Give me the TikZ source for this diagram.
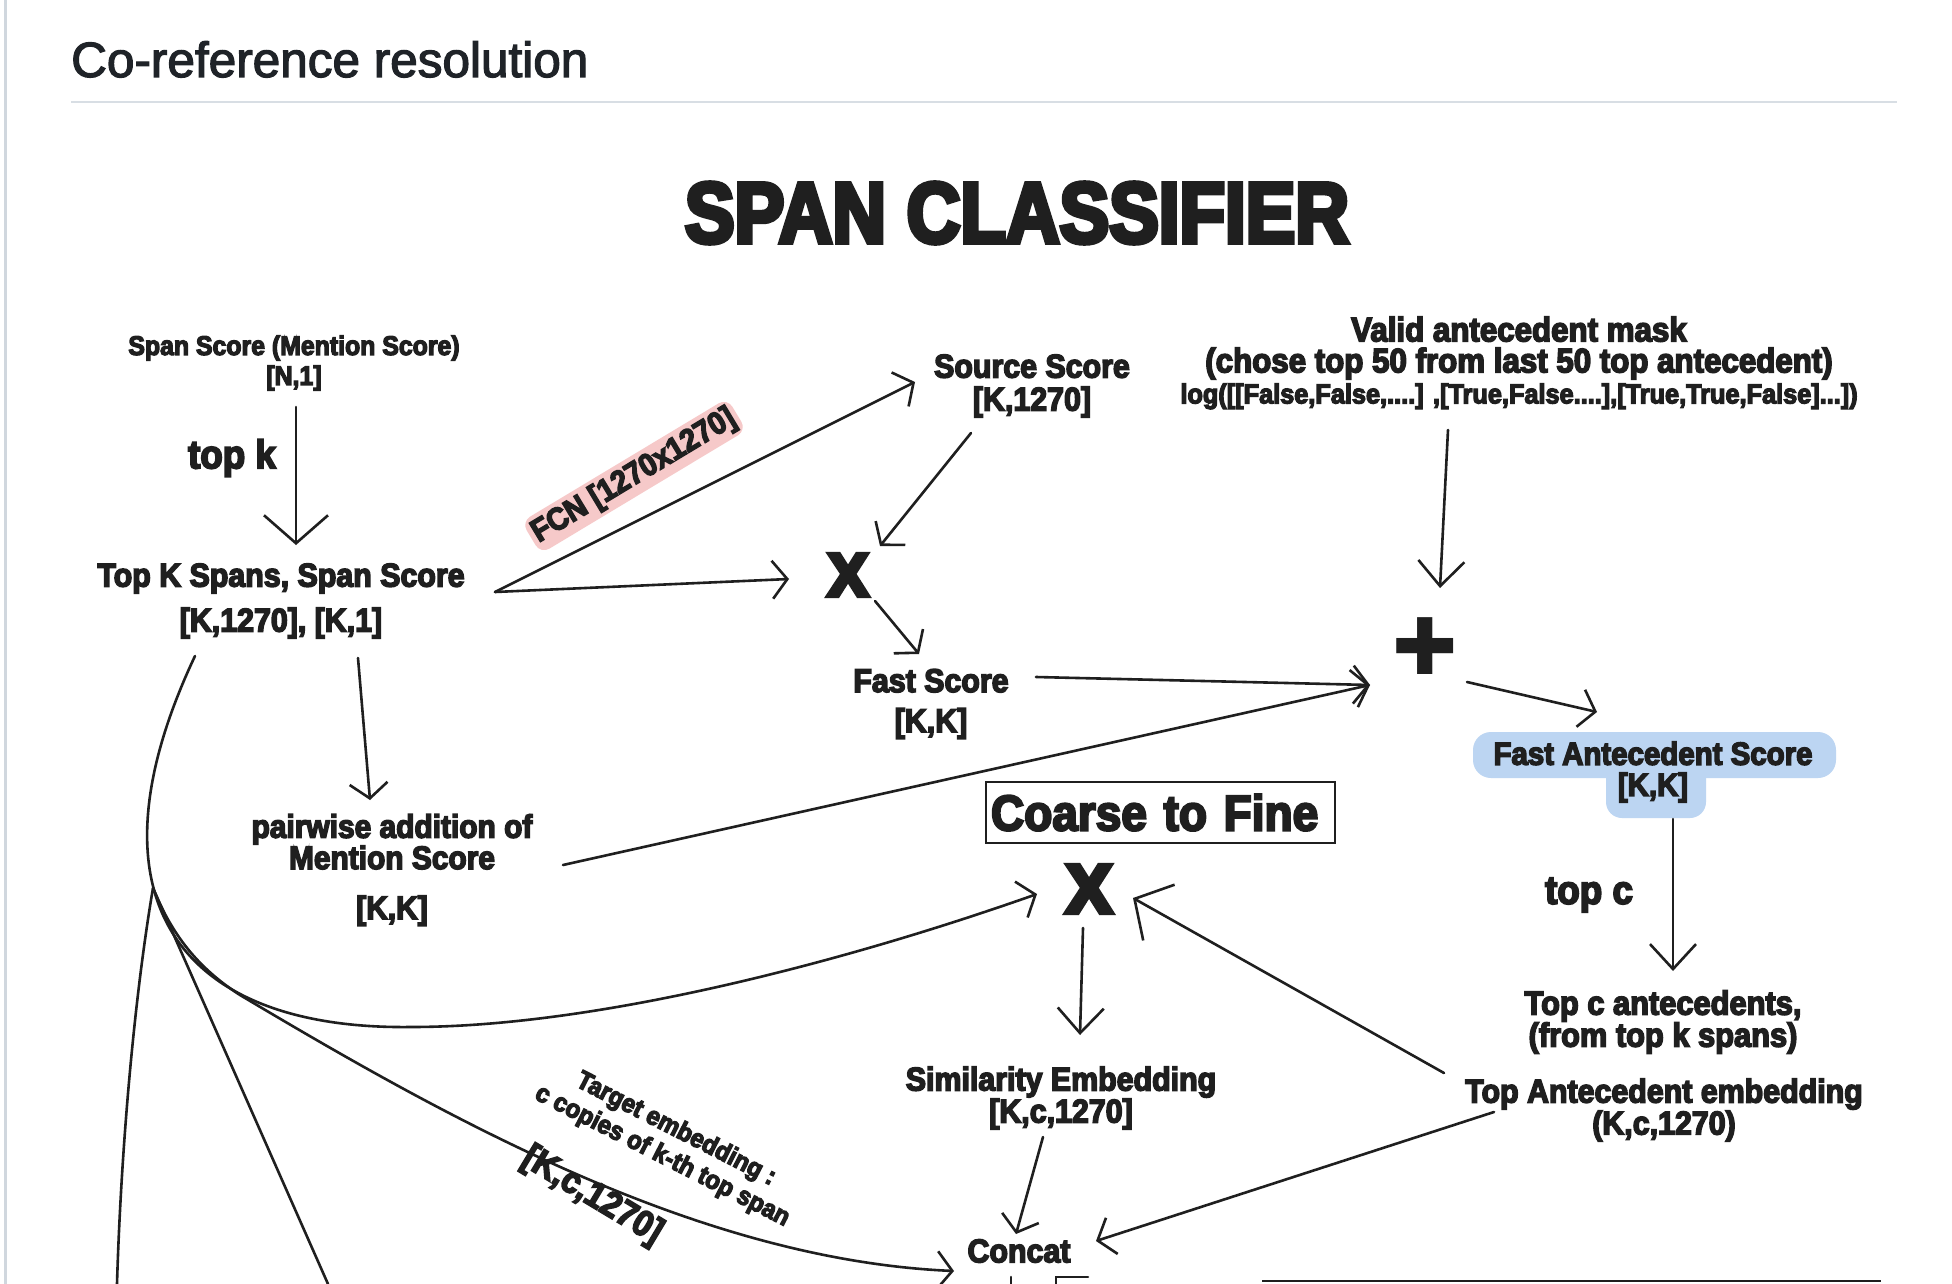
\documentclass[tikz,border=0pt]{standalone}
\usepackage{fontspec}
\setmainfont{Liberation Sans}
\newfontfamily\hf[FakeBold=2.5]{Liberation Sans}
\newfontfamily\dfam[FakeStretch=0.92, FakeBold=4.5]{Liberation Sans}
\newfontfamily\xfam[FakeBold=8]{Liberation Sans}
\newfontfamily\tfam[FakeStretch=0.865, FakeBold=5.5]{Liberation Sans}
\newfontfamily\djv{DejaVu Sans}
\usetikzlibrary{arrows.meta,calc}
\newcommand\fsz[2]{\fontsize{#1}{#2}\selectfont}
\newcommand\df{\dfam\bfseries}
\newcommand\xf{\xfam\bfseries}
\newcommand\tf{\tfam\bfseries}
\definecolor{ink}{HTML}{1F1F1F}
\definecolor{hdrc}{HTML}{1F2328}
\definecolor{rulec}{HTML}{D8DEE4}
\definecolor{borderc}{HTML}{D0D7DE}
\definecolor{pinkglow}{HTML}{F6C9C9}
\definecolor{blueglow}{HTML}{BCD5F2}
\tikzset{
  lbl/.style={inner sep=0pt, align=center, text=ink},
  ln/.style={line width=2.6pt, draw=ink, line cap=round},
  arr/.style={ln, -{Straight Barb[length=15pt,width=38pt]}},
  arrb/.style={ln, -{Straight Barb[length=25pt,width=46pt]}},
  arrh/.style={ln, -{Straight Barb[length=28pt,width=64pt]}},
}
\begin{document}
\begin{tikzpicture}[x=1pt,y=-1pt]
\useasboundingbox (0,0) rectangle (1952,1284);
\fill[white] (0,0) rectangle (1952,1284);
% page chrome
\draw[borderc, line width=3pt] (5,0) -- (5,1284);
\node[anchor=base west, inner sep=0pt, font=\hf\fsz{49.5}{50}, text=hdrc] (hdr) at (71,77) {Co-reference resolution};
\draw[rulec, line width=2pt] (71,102) -- (1897,102);

% glow shapes
\fill[blueglow, rounded corners=18pt] (1473,732) rectangle (1836,778);
\fill[blueglow, rounded corners=16pt] (1606,762) rectangle (1706,818);

% nodes
\node[lbl, font=\tf\fsz{86}{86}] (title) at (1017,213) {SPAN CLASSIFIER};
\node[lbl, font=\df\fsz{27}{30}] (spanscore) at (294,363) {Span Score (Mention Score)\\{}[N,1]};
\node[lbl, font=\df\fsz{40}{44}] (topk) at (232,458) {top k};
\node[lbl, font=\df\fsz{33}{45}] (topK) at (281,601) {Top K Spans, Span Score\\{}[K,1270], [K,1]};
\node[lbl, font=\df\fsz{31.5}{34}, fill=pinkglow, rounded corners=10pt, inner sep=4pt, rotate=31] (fcn) at (634,476) {FCN [1270x1270]};
\node[lbl, font=\df\fsz{33}{33}] (source) at (1032,386) {Source Score\\{}[K,1270]};
\node[lbl, font=\xf\fsz{60}{60}] (x1) at (848,575) {X};
\node[lbl, font=\df\fsz{33}{40}] (fast) at (931,704) {Fast Score\\{}[K,K]};
\node[lbl, font=\df\fsz{34}{31}] (mask) at (1519,363) {Valid antecedent mask\\(chose top 50 from last 50 top antecedent)\\{\fsz{27.5}{31}log([[False,False,....] ,[True,False....],[True,True,False]...])}};
\node[lbl, font=\djv\fsz{78}{78}] (plus) at (1425,646) {✚};
\node[lbl, font=\df\fsz{32}{31}] (fas) at (1653,772) {Fast Antecedent Score\\{}[K,K]};
\node[lbl, font=\df\fsz{40}{44}] (topc) at (1589,895) {top c};
\node[lbl, font=\df\fsz{33.5}{32}] (topcant) at (1663,1022) {Top c antecedents,\\(from top k spans)};
\node[lbl, font=\df\fsz{33}{30}] (tae) at (1664,1110) {Top Antecedent embedding\\(K,c,1270)};
\node[lbl, font=\df\fsz{50}{50}, draw=ink, line width=2.2pt, minimum width=349pt, minimum height=61pt, text width=339pt, align=left, inner xsep=5pt] (coarse) at (1160.5,812.5) {Coarse to Fine};
\node[lbl, font=\xf\fsz{68}{68}] (x2) at (1089,889) {X};
\node[lbl, font=\df\fsz{32.5}{30}] (pairwise) at (392,870) {pairwise addition of\\Mention Score\\[20pt]{}[K,K]};
\node[lbl, font=\df\fsz{33}{32}] (sim) at (1061,1098) {Similarity Embedding\\{}[K,c,1270]};
\node[lbl, font=\df\fsz{33}{33}] (concat) at (1019,1251) {Concat};
\node[lbl, font=\df\fsz{26}{30}, rotate=-27] (tgt) at (669,1143) {Target embedding :\\c copies of k-th top span};
\node[lbl, font=\df\fsz{36}{36}, rotate=-31] (tgtdim) at (592,1196) {[K,c,1270]};

% connectors
\draw[arrh] ($(spanscore)+(2,44)$) -- ($(topK)+(15,-56)$);
\draw[arr] ($(topK)+(214,-9)$) -- ($(source)+(-117,-4)$);
\draw[arr] ($(topK)+(214,-9)$) -- ($(x1)+(-59,4)$);
\draw[arr] ($(source)+(-61,47)$) -- ($(x1)+(32,-29)$);
\draw[arr] ($(x1)+(27,26)$) -- ($(fast)+(-12,-50)$);
\draw[arr] ($(fast)+(105,-27)$) -- ($(plus)+(-55,39)$);
\draw[arr] ($(pairwise)+(171,-5)$) -- ($(plus)+(-55,39)$);
\draw[arrb] ($(mask)+(-71,67)$) -- ($(plus)+(15,-58)$);
\draw[arr] ($(plus)+(42,36)$) -- ($(fas)+(-56,-60)$);
\draw[arrb] ($(fas)+(20,47)$) -- ($(topcant)+(10,-51)$);
\draw[arr] ($(topK)+(-86,55)$) .. controls (80,900) and (180,1030) .. (411,1027)
   .. controls (600,1027) and (850,960) .. ($(x2)+(-52,5)$);
\draw[arr] ($(topK)+(77,57)$) -- ($(pairwise)+(-22,-70)$);
\draw[arrb] ($(x2)+(-6,39)$) -- ($(sim)+(19,-63)$);
\draw[arrh] ($(tae)+(-220,-37)$) -- ($(x2)+(44,9)$);
\draw[arr] ($(sim)+(-18,39)$) -- ($(concat)+(-3,-17)$);
\draw[arr] ($(tae)+(-170,2)$) -- ($(concat)+(77,-10)$);
\coordinate (fork) at (153,888);
\draw[arr] (fork) .. controls (172,935) and (198,968) .. (240,995)
   .. controls (450,1120) and (700,1260) .. ($(concat)+(-65,20)$);
\draw[ln] (fork) .. controls (134,1000) and (121,1150) .. (117,1284);
\draw[ln] (fork) -- (328,1284);
% cut-off stubs at the bottom
\coordinate (s1) at (1011,1277);
\coordinate (s2) at (1056,1277);
\draw[ln] (s1) -- (1011,1284);
\draw[ln] (1056,1284) -- (s2) -- (1088,1277);
\coordinate (bl) at (1262,1281);
\draw[ink, line width=2pt] (bl) -- (1881,1281);
\end{tikzpicture}
\end{document}
